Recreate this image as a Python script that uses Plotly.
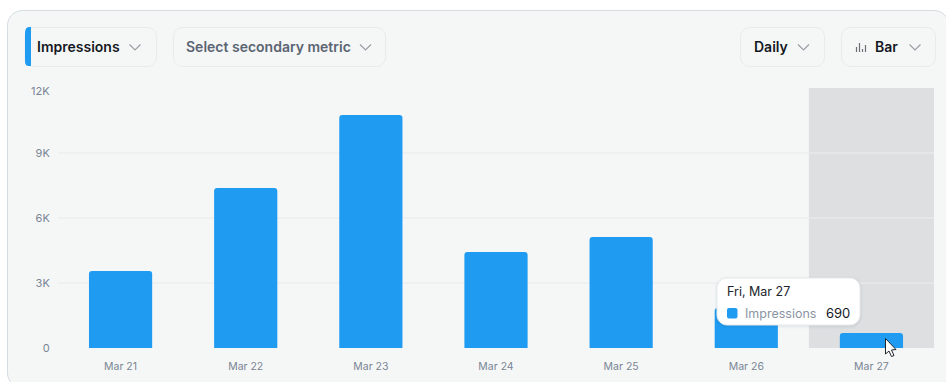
import plotly.graph_objects as go

dates = ["Mar 21", "Mar 22", "Mar 23", "Mar 24", "Mar 25", "Mar 26", "Mar 27"]
impressions = [3550, 7380, 10750, 4430, 5120, 1850, 690]
y_ticks = [0, 3000, 6000, 9000, 12000]
y_labels = ["0", "3K", "6K", "9K", ""]

W, H = 946, 382
L, R, T, B = 58, 934, 88, 348
FONT = "Inter, 'Open Sans', sans-serif"
BLUE = "#1f9cf2"


def X(px):
    return (px - L) / (R - L)


def Y(py):
    return (B - py) / (B - T)


def rrect(x0, y0, x1, y1, r):
    c = 0.45 * r
    pts = [
        ("M", [(x0 + r, y0)]), ("L", [(x1 - r, y0)]),
        ("C", [(x1 - c, y0), (x1, y0 + c), (x1, y0 + r)]), ("L", [(x1, y1 - r)]),
        ("C", [(x1, y1 - c), (x1 - c, y1), (x1 - r, y1)]), ("L", [(x0 + r, y1)]),
        ("C", [(x0 + c, y1), (x0, y1 - c), (x0, y1 - r)]), ("L", [(x0, y0 + r)]),
        ("C", [(x0, y0 + c), (x0 + c, y0), (x0 + r, y0)]),
    ]
    return " ".join(cmd + " " + " ".join(f"{X(a):.5f},{Y(b):.5f}" for a, b in p) for cmd, p in pts) + " Z"


def poly(points, close=False):
    s = "M " + " L ".join(f"{X(a):.5f},{Y(b):.5f}" for a, b in points)
    return s + (" Z" if close else "")


shapes = []


def pshape(path, fill="rgba(0,0,0,0)", line=None, width=1, layer="below"):
    shapes.append(dict(type="path", xref="paper", yref="paper", path=path, fillcolor=fill,
                       line=dict(color=line or "rgba(0,0,0,0)", width=width if line else 0), layer=layer))


# card
pshape(rrect(7.5, 10.5, 949, 388, 15), fill="#f5f7f7", line="#d3dde2", width=1)
# highlighted period
shapes.append(dict(type="rect", xref="x", yref="paper", x0=5.5, x1=6.5, y0=0, y1=1,
                   fillcolor="#dddfe1", line=dict(width=0), layer="below"))

# controls
for x0, x1 in [(25, 156.5), (173.5, 385.5), (740.5, 824.5), (841.5, 935.5)]:
    pshape(rrect(x0, 27.5, x1, 66.5, 9), line="#e8ebec", width=1)
# blue strip on the primary metric control
pshape("M " + f"{X(31):.5f},{Y(27):.5f} L {X(29):.5f},{Y(27):.5f} C {X(26.5):.5f},{Y(27):.5f} {X(25):.5f},{Y(29):.5f} {X(25):.5f},{Y(33):.5f} "
       f"L {X(25):.5f},{Y(61):.5f} C {X(25):.5f},{Y(65):.5f} {X(26.5):.5f},{Y(66):.5f} {X(29):.5f},{Y(66):.5f} L {X(31):.5f},{Y(66):.5f} Z", fill=BLUE)
# chevrons
for cx in [135, 365.5, 803.5, 915]:
    pshape(poly([(cx - 5.5, 44.5), (cx, 50), (cx + 5.5, 44.5)]), line="#9a9fa5", width=1.2)
# bar glyph
for gx, top in [(856.5, 47), (859.5, 43), (862.5, 49), (865.5, 45)]:
    pshape(poly([(gx, top), (gx, 52)]), line="#6b7076", width=1.2)

# tooltip shadow, box and swatch
for grow, alpha in [(3, 0.012), (2, 0.018), (1, 0.03)]:
    pshape(rrect(717 - grow, 278 - grow + 1, 860 + grow, 325 + grow + 1, 10 + grow),
           fill=f"rgba(40,50,60,{alpha})", layer="above")
pshape(rrect(717, 278, 860, 325, 10), fill="#ffffff", line="#e6e9ea", width=1, layer="above")
pshape(rrect(727, 308, 737.5, 318.5, 2), fill=BLUE, layer="above")
# pointer
pshape(poly([(885.5, 338.5), (885.5, 354), (889, 351), (891.5, 356.5), (894, 355.5), (891.5, 350), (896, 349.5)], close=True),
       fill="#ffffff", line="#20252b", width=1, layer="above")


def label(px, py, text, size=14, color="#14181f", weight=400, anchor="left"):
    return dict(xref="paper", yref="paper", x=X(px), y=Y(py), text=text, showarrow=False,
                xanchor=anchor, yanchor="middle", align=anchor, borderpad=0,
                font=dict(family=FONT, size=size, color=color, weight=weight))


annotations = [
    label(35.5, 47, "Impressions", weight=600),
    label(184.5, 47, "Select secondary metric", color="#5b6472", weight=600),
    label(752.5, 47, "Daily", weight=600),
    label(874, 47, "Bar", weight=600),
    label(726, 291.5, "Fri, Mar 27", size=12.5, color="#20252b"),
    label(744, 313, "Impressions", size=12.5, color="#8a94a3"),
    label(850.5, 313, "690", size=13, color="#14181f", anchor="right"),
    # top tick label sits just below its gridline
    label(50.5, 91, "12K", size=11, color="#7a8594", anchor="right"),
]

fig = go.Figure(go.Bar(x=dates, y=impressions, width=0.505,
                       marker=dict(color=BLUE, cornerradius=3, line=dict(width=0)),
                       hoverinfo="skip"))
fig.update_layout(
    width=W, height=H, autosize=False,
    margin=dict(l=L, r=W - R, t=T, b=H - B, pad=0),
    paper_bgcolor="#ffffff", plot_bgcolor="rgba(0,0,0,0)",
    showlegend=False, shapes=shapes, annotations=annotations,
    font=dict(family=FONT, size=11, color="#7a8594"),
    xaxis=dict(type="category", categoryorder="array", categoryarray=dates, range=[-0.5, 6.5],
               automargin=False,
               showgrid=False, zeroline=False, showline=False,
               ticks="outside", ticklen=8, tickcolor="rgba(0,0,0,0)", tickangle=0,
               tickfont=dict(size=10.5, color="#7a8594")),
    yaxis=dict(range=[0, 12000], tickmode="array", tickvals=y_ticks, ticktext=y_labels,
               automargin=False,
               showgrid=True, gridcolor="rgba(233,236,237,0.6)", gridwidth=2, zeroline=False, showline=False,
               ticks="outside", ticklen=5, tickcolor="rgba(0,0,0,0)",
               tickfont=dict(size=11, color="#7a8594")),
)
fig.write_html("out.html", config=dict(displayModeBar=False),
               post_script="document.body.style.margin='0';")
